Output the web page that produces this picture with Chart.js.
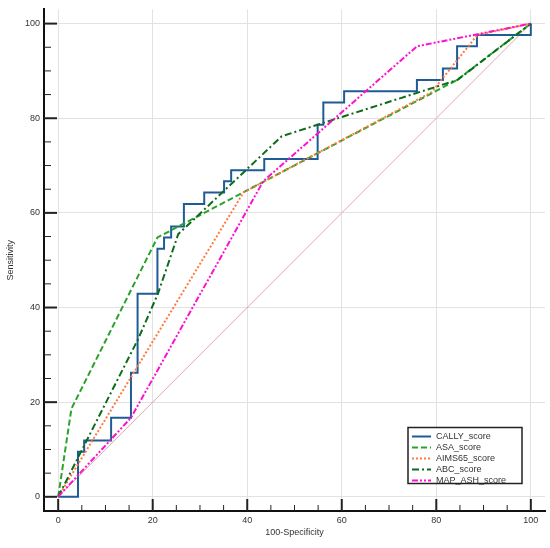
<!DOCTYPE html>
<html>
<head>
<meta charset="utf-8">
<script src="https://cdn.jsdelivr.net/npm/chart.js@4.4.1/dist/chart.umd.min.js"></script>
<style>
  html, body { margin: 0; padding: 0; background: #fff; }
  #wrap { width: 550px; height: 548px; }
</style>
</head>
<body>
<div id="wrap"><canvas id="roc"></canvas></div>
<script>
// ROC curves (x = 100-Specificity, y = Sensitivity)
let callyX = [0, 4.2, 5.5, 11.2, 15.4, 16.8, 21.0, 22.4, 23.9, 26.6, 30.9, 35.1, 36.6, 43.6, 54.9, 56.1, 60.5, 75.9, 81.4, 84.4, 88.6, 100]
let callyY = [0, 9.5, 11.9, 16.7, 26.2, 42.9, 52.4, 54.8, 57.1, 61.9, 64.3, 66.7, 69.0, 71.4, 78.6, 83.3, 85.7, 88.1, 90.5, 95.2, 97.6, 100]

let asaX = [0, 2.8, 21.0, 84.4, 100]
let asaY = [0, 18.6, 54.8, 88.1, 100]

let aimsX = [0, 39.2, 79.0, 88.7, 100]
let aimsY = [0, 64.3, 85.5, 97.6, 100]

let abcX = [0, 16.9, 21.1, 25.4, 47.3, 84.5, 100]
let abcY = [0, 33.3, 42.9, 55.5, 76.2, 88.1, 100]

let mapX = [0, 15.4, 43.4, 75.9, 100]
let mapY = [0, 16.7, 66.7, 95.2, 100]

let diagX = [0, 100]
let diagY = [0, 100]

let tickValues = [0, 5, 10, 15, 20, 25, 30, 35, 40, 45, 50, 55, 60, 65, 70, 75, 80, 85, 90, 95, 100]

let font = 'Liberation Sans, Arial, sans-serif'

let pts = function(xs, ys){
    let out = []
    for(let i = 0 ; i < xs.length ; i++){
        out.push({x: xs[i], y: ys[i]})
    }
    return out
}

let line = function(label, xs, ys, color, dash, order){
    return {
        label: label,
        data: pts(xs, ys),
        showLine: true,
        borderColor: color,
        backgroundColor: color,
        borderWidth: 2,
        borderDash: dash,
        pointRadius: 0,
        fill: false,
        tension: 0,
        order: order
    }
}

let cally = line('CALLY_score', callyX, callyY, '#1f5b94', [], 5)
cally.stepped = 'before'

let datasets = [
    cally,
    line('ASA_score', asaX, asaY, '#2aa32a', [6, 3], 4),
    line('AIMS65_score', aimsX, aimsY, '#ff7a40', [2, 2], 3),
    line('ABC_score', abcX, abcY, '#0d6b1c', [7, 3, 2, 3], 2),
    line('MAP_ASH_score', mapX, mapY, '#ff10d0', [6, 2, 2, 2, 2, 2], 1)
]
let diag = line('', diagX, diagY, '#dcaaaa', [], 10)
diag.borderWidth = 1
datasets.push(diag)

// tick marks sit inside the plot, on the axis lines
let innerTicks = {
    id: 'innerTicks',
    afterDraw: function(chart){
        let ctx = chart.ctx
        let xs = chart.scales.x
        let ys = chart.scales.y
        let a = chart.chartArea
        ctx.save()
        ctx.strokeStyle = '#222'
        tickValues.forEach(function(v){
            let major = v % 20 === 0
            ctx.lineWidth = major ? 2 : 1
            let py = ys.getPixelForValue(v)
            ctx.beginPath()
            ctx.moveTo(a.left, py)
            ctx.lineTo(a.left + (major ? 13 : 7), py)
            ctx.stroke()
            let px = xs.getPixelForValue(v)
            ctx.beginPath()
            ctx.moveTo(px, a.bottom)
            ctx.lineTo(px, a.bottom - (major ? 12 : 6))
            ctx.stroke()
        })
        ctx.restore()
    }
}

// legend box in the lower right corner of the plot
let boxLegend = {
    id: 'boxLegend',
    afterDraw: function(chart){
        let ctx = chart.ctx
        let a = chart.chartArea
        let w = 114, h = 56
        let x0 = a.right - 23 - w
        let y0 = a.bottom - 27.5 - h
        ctx.save()
        ctx.fillStyle = '#fff'
        ctx.fillRect(x0, y0, w, h)
        ctx.strokeStyle = '#222'
        ctx.lineWidth = 1.5
        ctx.strokeRect(x0, y0, w, h)
        ctx.font = '9px ' + font
        ctx.textBaseline = 'middle'
        for(let i = 0 ; i < 5 ; i++){
            let ds = chart.data.datasets[i]
            let y = y0 + 9 + i * 11
            ctx.strokeStyle = ds.borderColor
            ctx.lineWidth = 2
            ctx.setLineDash(ds.borderDash)
            ctx.beginPath()
            ctx.moveTo(x0 + 4, y)
            ctx.lineTo(x0 + 23, y)
            ctx.stroke()
            ctx.setLineDash([])
            ctx.fillStyle = '#333'
            ctx.fillText(ds.label, x0 + 28, y)
        }
        ctx.restore()
    }
}

let axis = function(title, size){
    return {
        type: 'linear',
        min: -3,
        max: 103,
        afterBuildTicks: function(scale){
            scale.ticks = tickValues.map(function(v){ return {value: v} })
        },
        ticks: {
            padding: 4,
            color: '#333',
            font: {family: font, size: 9},
            autoSkip: false,
            maxRotation: 0,
            callback: function(v){ return v % 20 === 0 ? v : '' }
        },
        grid: {
            drawTicks: false,
            lineWidth: 1,
            color: function(c){
                return c.tick && c.tick.value % 20 === 0 ? '#e2e2e2' : 'rgba(0,0,0,0)'
            }
        },
        border: {display: true, color: '#111', width: 2},
        title: {
            display: true,
            text: title,
            color: '#333',
            font: {family: font, size: 9}
        }
    }
}

let xAxis = axis('100-Specificity')
xAxis.title.padding = {top: 0, bottom: 10}
xAxis.afterFit = function(s){ s.height = 37 }

let yAxis = axis('Sensitivity')
yAxis.title.padding = {top: 5, bottom: 0}
yAxis.afterFit = function(s){ s.width = 44 }

new Chart(document.getElementById('roc'), {
    type: 'scatter',
    data: {datasets: datasets},
    options: {
        responsive: true,
        maintainAspectRatio: false,
        animation: false,
        layout: {padding: {top: 7, right: 5, left: 0, bottom: 0}},
        plugins: {
            legend: {display: false},
            tooltip: {enabled: false}
        },
        scales: {x: xAxis, y: yAxis}
    },
    plugins: [innerTicks, boxLegend]
})
</script>
</body>
</html>
